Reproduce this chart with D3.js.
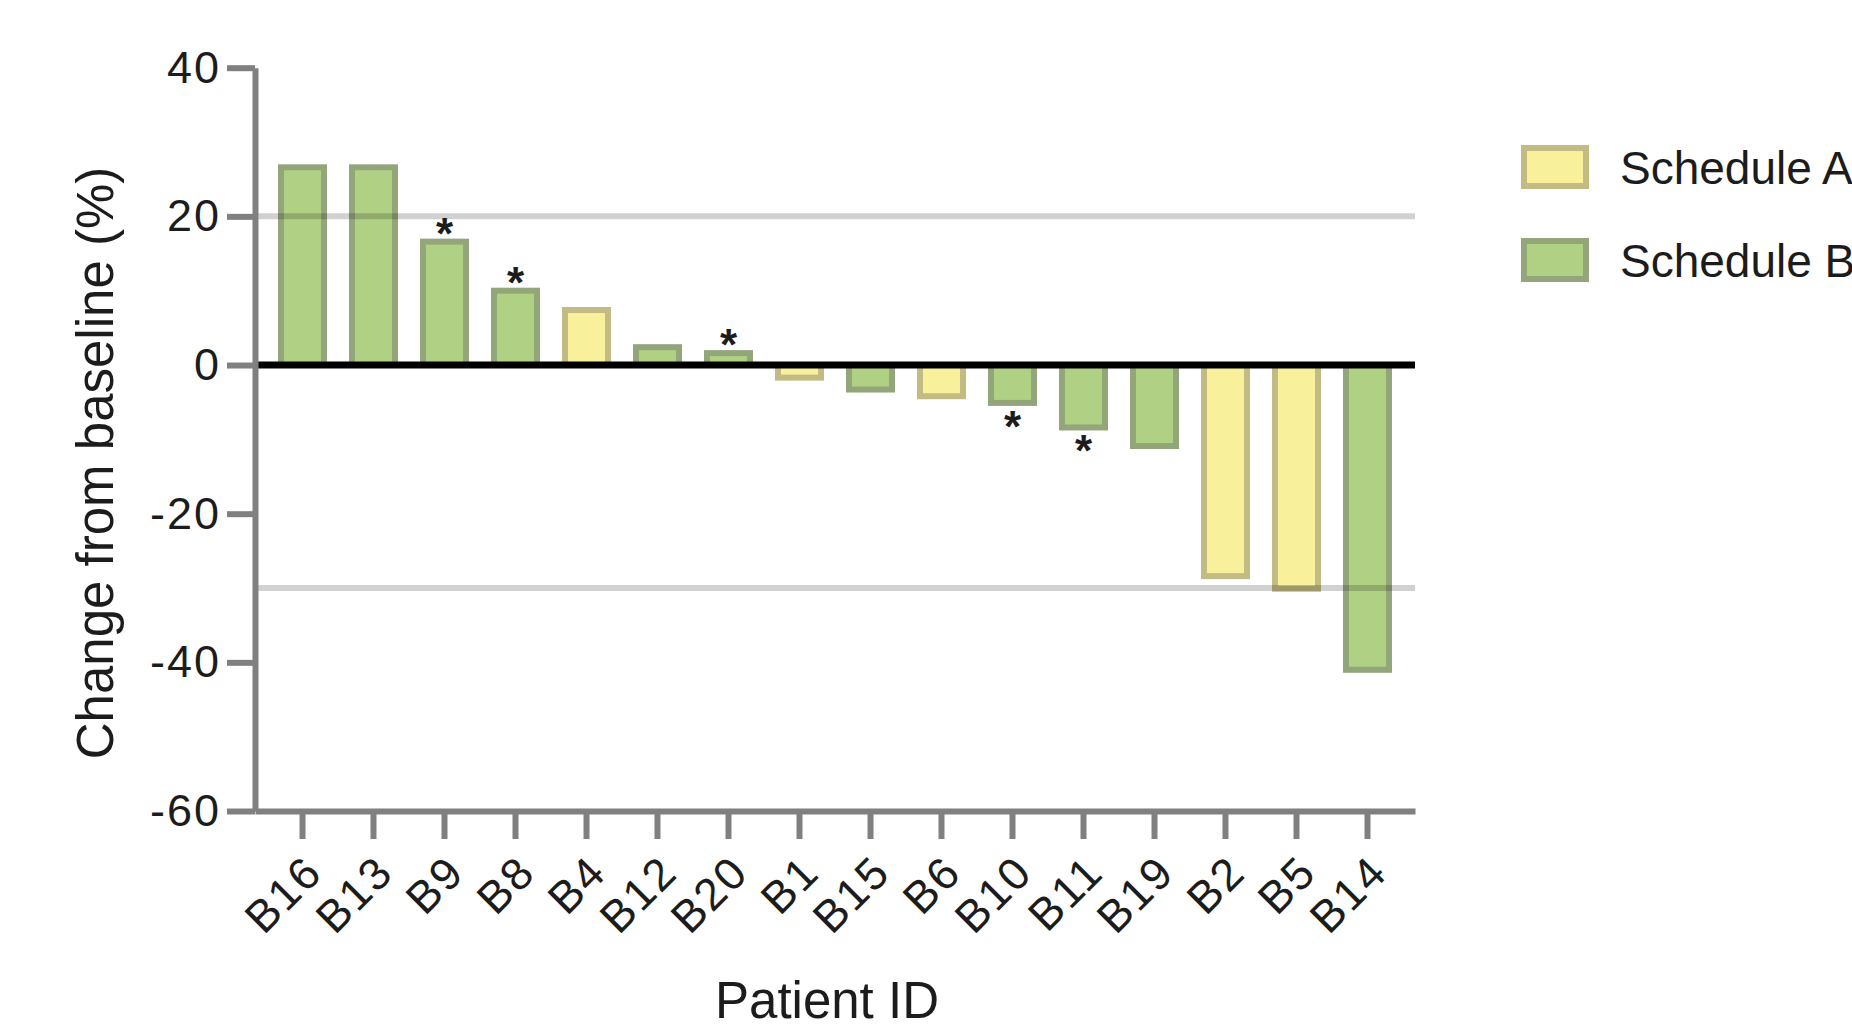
<!DOCTYPE html>
<html>
<head>
<meta charset="utf-8">
<script src="https://cdn.jsdelivr.net/npm/d3@7"></script>
<style>
  html, body { margin: 0; padding: 0; background: #ffffff; }
  svg { display: block; }
  text { font-family: "Liberation Sans", Arial, Helvetica, sans-serif; fill: #1c1c1c; }
</style>
</head>
<body>
<svg id="chart" width="1852" height="1030"></svg>
<script>
// ---- data ----
const categories = ["B16","B13","B9","B8","B4","B12","B20","B1","B15","B6","B10","B11","B19","B2","B5","B14"];
const values = [26.6, 26.6, 16.6, 10.0, 7.4, 2.4, 1.6, -1.7, -3.3, -4.2, -5.1, -8.4, -10.9, -28.4, -30.1, -41.0];
const schedules = ["B","B","B","B","A","B","B","A","B","A","B","B","B","A","A","B"];
const significant = [false,false,true,true,false,false,true,false,false,false,true,true,false,false,false,false];
const yTicks = [40, 20, 0, -20, -40, -60];
const yTickLabels = ["40", "20", "0", "-20", "-40", "-60"];
const referenceLines = [20, -30];
const legendKeys = ["A", "B"];
const legendLabels = ["Schedule A", "Schedule B"];
const yTitle = "Change from baseline (%)";
const xTitle = "Patient ID";

// ---- styles ----
const fillColor = { A: "#f8f09a", B: "#b0d084" };
const strokeColor = { A: "#c2bb84", B: "#93a67a" };
const axisColor = "#808080";

const svg = d3.select("#chart");

const x = d3.scaleBand()
  .domain(categories)
  .range([255, 1415])
  .paddingInner(0.394)
  .paddingOuter(0.366);

const y = d3.scaleLinear()
  .domain([-60, 40])
  .range([811, 67.7]);

const data = categories.map((c, i) => ({ id: c, v: values[i], s: schedules[i], sig: significant[i] }));

// bars
svg.append("g").selectAll("rect")
  .data(data)
  .join("rect")
  .attr("x", d => x(d.id))
  .attr("width", x.bandwidth())
  .attr("y", d => Math.min(y(d.v), y(0)))
  .attr("height", d => Math.abs(y(d.v) - y(0)))
  .attr("fill", d => fillColor[d.s])
  .attr("stroke", d => strokeColor[d.s])
  .attr("stroke-width", 6);

// reference lines (drawn over bars, translucent)
svg.append("g").selectAll("line")
  .data(referenceLines)
  .join("line")
  .attr("x1", 255).attr("x2", 1415)
  .attr("y1", d => y(d)).attr("y2", d => y(d))
  .attr("stroke", "#000")
  .attr("stroke-opacity", 0.18)
  .attr("stroke-width", 6);

// zero line
svg.append("line")
  .attr("x1", 255).attr("x2", 1415)
  .attr("y1", y(0)).attr("y2", y(0))
  .attr("stroke", "#000")
  .attr("stroke-width", 7);

// asterisks
svg.append("g").selectAll("text")
  .data(data.filter(d => d.sig))
  .join("text")
  .attr("x", d => x(d.id) + x.bandwidth() / 2)
  .attr("y", d => (d.v >= 0 ? y(d.v) - 18 : y(d.v) + 14) + 25)
  .attr("text-anchor", "middle")
  .style("font-size", "44px")
  .style("font-weight", "bold")
  .text("*");

// y axis
const yAxis = svg.append("g")
  .attr("transform", "translate(255,0)")
  .call(d3.axisLeft(y)
    .tickValues(yTicks)
    .tickFormat((d, i) => yTickLabels[i])
    .tickSize(28).tickSizeOuter(0).tickPadding(6));
yAxis.select(".domain").attr("stroke", axisColor).attr("stroke-width", 6);
yAxis.selectAll(".tick line").attr("stroke", axisColor).attr("stroke-width", 6);
yAxis.selectAll(".tick text")
  .style("font-size", "45px")
  .style("letter-spacing", "2px")
  .attr("fill", "#1c1c1c");

// x axis
const xAxis = svg.append("g")
  .attr("transform", "translate(0,811)")
  .call(d3.axisBottom(x).tickSize(28).tickSizeOuter(0));
xAxis.select(".domain").attr("stroke", axisColor).attr("stroke-width", 6);
xAxis.selectAll(".tick line").attr("stroke", axisColor).attr("stroke-width", 6);
xAxis.selectAll(".tick text")
  .attr("x", 0).attr("y", 0).attr("dy", 0)
  .attr("transform", "translate(22,64) rotate(-45)")
  .attr("text-anchor", "end")
  .style("font-size", "45px")
  .style("letter-spacing", "2px")
  .attr("fill", "#1c1c1c");

// axis titles
svg.append("text")
  .attr("transform", "translate(113,463) rotate(-90)")
  .attr("text-anchor", "middle")
  .style("font-size", "51px")
  .text(yTitle);

svg.append("text")
  .attr("x", 827).attr("y", 1018)
  .attr("text-anchor", "middle")
  .style("font-size", "51px")
  .text(xTitle);

// legend
const legend = svg.append("g");
legendKeys.forEach((k, i) => {
  const cy = 167 + i * 93;
  legend.append("rect")
    .attr("x", 1524).attr("y", cy - 19)
    .attr("width", 62).attr("height", 38)
    .attr("fill", fillColor[k])
    .attr("stroke", strokeColor[k])
    .attr("stroke-width", 6);
  legend.append("text")
    .attr("x", 1620).attr("y", cy + 17)
    .style("font-size", "46px")
    .text(legendLabels[i]);
});
</script>
</body>
</html>
